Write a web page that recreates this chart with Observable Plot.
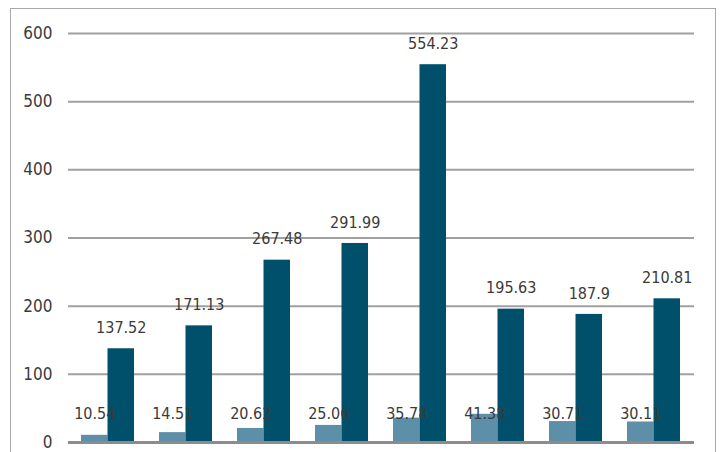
<!DOCTYPE html>
<html>
<head>
<meta charset="utf-8">
<script src="https://cdn.jsdelivr.net/npm/d3@7"></script>
<script src="https://cdn.jsdelivr.net/npm/@observablehq/plot@0.6"></script>
<style>
  html, body { margin: 0; padding: 0; background: #fff; }
  #wrap { position: relative; width: 720px; height: 452px; overflow: hidden; }
  #border { position: absolute; left: 10px; top: 8px; width: 706px; height: 460px; border: 1.5px solid #a8a8a8; box-sizing: border-box; pointer-events: none; }
  #chart { position: absolute; left: 0; top: 0; }
</style>
</head>
<body>
<div id="wrap"><div id="chart"></div><div id="border"></div></div>
<script>
const categories = ["1", "2", "3", "4", "5", "6", "7", "8"];
const seriesA = [10.54, 14.51, 20.62, 25.06, 35.78, 41.38, 30.71, 30.11];
const seriesB = [137.52, 171.13, 267.48, 291.99, 554.23, 195.63, 187.9, 210.81];
const yTicks = [0, 100, 200, 300, 400, 500, 600];

const dataA = categories.map((c, i) => ({cat: c, v: seriesA[i]}));
const dataB = categories.map((c, i) => ({cat: c, v: seriesB[i]}));

const font = "'DejaVu Sans Condensed', 'Liberation Sans Narrow', 'Liberation Sans', sans-serif";
const half = 26.5;

const chart = Plot.plot({
  width: 720,
  height: 452,
  marginLeft: 68,
  marginRight: 26,
  marginTop: 33,
  marginBottom: 10,
  style: {fontFamily: font, fontSize: "16px", color: "#3a3a3a", background: "transparent"},
  x: {domain: categories, paddingInner: 0.32, paddingOuter: 0.16, axis: null},
  y: {domain: [0, 600], ticks: yTicks, axis: null},
  marks: [
    Plot.ruleY(yTicks.filter(d => d > 0), {stroke: "#a0a0a0", strokeWidth: 2}),
    Plot.text(yTicks, {y: d => d, text: d => String(d), frameAnchor: "left", textAnchor: "end", dx: -16, fontSize: 17, fill: "#3a3a3a"}),
    Plot.barY(dataA, {x: "cat", y: "v", fill: "#5d90a8", insetRight: half}),
    Plot.barY(dataB, {x: "cat", y: "v", fill: "#00506c", insetLeft: half}),
    Plot.ruleY([0], {stroke: "#8c8c8c", strokeWidth: 3}),
    Plot.text(dataB, {x: "cat", y: "v", text: d => String(d.v), dx: half / 2, dy: -21, fontSize: 16, fill: "#3a3a3a"}),
    Plot.text(dataA, {x: "cat", text: d => String(d.v), frameAnchor: "bottom", dx: -half / 2, dy: -24, fontSize: 16, fill: "#3a3a3a"})
  ]
});
document.getElementById("chart").appendChild(chart);
</script>
</body>
</html>
